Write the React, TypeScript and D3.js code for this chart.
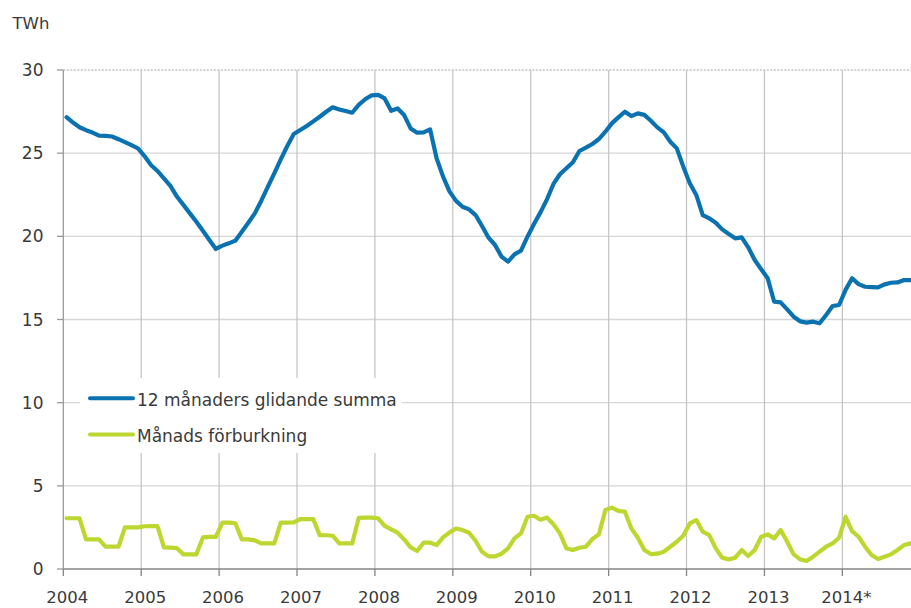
import React from "react";
import * as d3 from "d3";

const startYear = 2004;
const yearLabels = ["2004", "2005", "2006", "2007", "2008", "2009", "2010", "2011", "2012", "2013", "2014*"];
const yTicks = [0, 5, 10, 15, 20, 25, 30];
const seriesNames = ["12 månaders glidande summa", "Månads förburkning"];

// 12-month rolling sum, TWh, monthly Jan 2004 – Nov 2014
const rolling12 = [
  27.16, 26.84, 26.56, 26.38, 26.24, 26.06, 26.04, 26.0, 25.84, 25.66, 25.48, 25.29,
  24.83, 24.29, 23.93, 23.49, 23.03, 22.39, 21.89, 21.38, 20.88, 20.34, 19.78, 19.24,
  19.44, 19.58, 19.74, 20.28, 20.82, 21.38, 22.14, 22.98, 23.79, 24.63, 25.43, 26.15,
  26.39, 26.63, 26.91, 27.19, 27.49, 27.76, 27.63, 27.53, 27.43, 27.9, 28.24, 28.48,
  28.5, 28.29, 27.55, 27.69, 27.29, 26.49, 26.23, 26.25, 26.43, 24.69, 23.59, 22.69,
  22.13, 21.78, 21.62, 21.28, 20.62, 19.92, 19.48, 18.78, 18.48, 18.92, 19.14, 19.98,
  20.74, 21.44, 22.22, 23.15, 23.73, 24.09, 24.45, 25.13, 25.33, 25.55, 25.85, 26.29,
  26.79, 27.15, 27.49, 27.23, 27.39, 27.3, 26.95, 26.55, 26.25, 25.69, 25.29, 24.19,
  23.19, 22.49, 21.28, 21.08, 20.82, 20.42, 20.14, 19.88, 19.94, 19.34, 18.58, 18.02,
  17.48, 16.07, 16.03, 15.61, 15.17, 14.89, 14.81, 14.87, 14.77, 15.27, 15.81, 15.87,
  16.78, 17.48, 17.13, 16.97, 16.95, 16.93, 17.11, 17.21, 17.23, 17.37, 17.37,
];

// Monthly consumption, TWh
const monthly = [
  3.05, 3.05, 3.05, 1.78, 1.78, 1.78, 1.34, 1.34, 1.34, 2.5, 2.5, 2.5,
  2.57, 2.58, 2.58, 1.3, 1.28, 1.25, 0.88, 0.88, 0.88, 1.9, 1.93, 1.93,
  2.79, 2.79, 2.75, 1.78, 1.78, 1.72, 1.54, 1.54, 1.54, 2.79, 2.79, 2.8,
  3.0, 3.0, 3.0, 2.03, 2.03, 2.0, 1.54, 1.54, 1.54, 3.07, 3.09, 3.09,
  3.05, 2.59, 2.38, 2.18, 1.78, 1.3, 1.08, 1.58, 1.58, 1.44, 1.9, 2.2,
  2.44, 2.34, 2.18, 1.7, 1.04, 0.76, 0.76, 0.92, 1.24, 1.84, 2.14, 3.14,
  3.2, 2.96, 3.09, 2.69, 2.14, 1.24, 1.14, 1.28, 1.34, 1.8, 2.08, 3.55,
  3.69, 3.49, 3.45, 2.44, 1.88, 1.14, 0.9, 0.92, 1.04, 1.34, 1.64, 2.0,
  2.74, 2.94, 2.24, 2.04, 1.24, 0.68, 0.58, 0.68, 1.14, 0.78, 1.14, 1.94,
  2.08, 1.84, 2.34, 1.64, 0.88, 0.58, 0.48, 0.74, 1.04, 1.34, 1.54, 1.88,
  3.14, 2.28, 1.94, 1.34, 0.84, 0.6, 0.74, 0.88, 1.14, 1.44, 1.54,
];

const W = 911;
const H = 608;
const FONT = "'DejaVu Sans', Verdana, sans-serif";
const BLUE = "#0a72b1";
const GREEN = "#bdd630";

export default function App() {
  const x0 = 63.3;
  const monthW = 6.492;
  const nMonths = 12 * yearLabels.length;
  const x = d3.scaleLinear().domain([0, nMonths]).range([x0, x0 + nMonths * monthW]);
  const y = d3.scaleLinear().domain([0, 30]).range([569, 70]);

  const line = d3
    .line<number>()
    .x((_, i) => x(i + 0.5))
    .y((d) => y(d));

  const yearTicks = yearLabels.map((_, i) => i * 12);

  return (
    <svg
      width={W}
      height={H}
      style={{ position: "absolute", left: 0, top: 0, background: "#fff" }}
      fontFamily={FONT}
    >
      <rect x={0} y={0} width={W} height={H} fill="#fff" />
      {/* horizontal gridlines */}
      {yTicks.filter((t) => t > 0).map((t) => (
        <line
          key={"hg" + t}
          x1={x0}
          x2={W}
          y1={y(t)}
          y2={y(t)}
          stroke={t === 30 ? "#c4c4c4" : "#d6d6d6"}
          strokeWidth={1.3}
          strokeDasharray={t === 30 ? "2,1.5" : undefined}
        />
      ))}
      {/* vertical gridlines */}
      {yearTicks.slice(1).map((m) => (
        <line key={"vg" + m} x1={x(m)} x2={x(m)} y1={y(30)} y2={y(0)} stroke="#c6c6c6" strokeWidth={1.3} />
      ))}
      {/* legend background */}
      <rect x={80} y={378} width={322} height={75} fill="#fff" />
      {/* axes */}
      <line x1={x0} x2={x0} y1={y(30)} y2={y(0)} stroke="#9a9a9a" strokeWidth={1.3} />
      {yTicks.map((t) => (
        <line key={"yt" + t} x1={57} x2={x0} y1={y(t)} y2={y(t)} stroke="#9a9a9a" strokeWidth={1.3} />
      ))}
      <line x1={x0} x2={W} y1={y(0)} y2={y(0)} stroke="#858585" strokeWidth={1.6} />
      {yearTicks.map((m) => (
        <line key={"xt" + m} x1={x(m)} x2={x(m)} y1={y(0)} y2={y(0) + 7} stroke="#858585" strokeWidth={1.3} />
      ))}
      {/* y labels */}
      {yTicks.map((t) => (
        <text key={"yl" + t} x={43.5} y={y(t) + 6} textAnchor="end" fontSize={17} fill="#3a3a3a">
          {t}
        </text>
      ))}
      <text x={12.5} y={29} fontSize={16.5} fill="#3a3a3a">
        TWh
      </text>
      {/* x labels */}
      {yearTicks.map((m, i) => (
        <text key={"xl" + m} x={x(m) + 4} y={603} textAnchor="middle" fontSize={16.5} fill="#3a3a3a">
          {yearLabels[i]}
        </text>
      ))}
      {/* series */}
      <path d={line(rolling12) || ""} fill="none" stroke={BLUE} strokeWidth={4.2} strokeLinejoin="round" strokeLinecap="round" />
      <path d={line(monthly) || ""} fill="none" stroke={GREEN} strokeWidth={4.2} strokeLinejoin="round" strokeLinecap="round" />
      {/* legend */}
      <line x1={90} x2={133} y1={398.3} y2={398.3} stroke={BLUE} strokeWidth={4} strokeLinecap="round" />
      <text x={137} y={406} fontSize={17} fill="#3a3a3a">
        {seriesNames[0]}
      </text>
      <line x1={90} x2={133} y1={434.5} y2={434.5} stroke={GREEN} strokeWidth={4} strokeLinecap="round" />
      <text x={137} y={441.5} fontSize={17} fill="#3a3a3a">
        {seriesNames[1]}
      </text>
    </svg>
  );
}
